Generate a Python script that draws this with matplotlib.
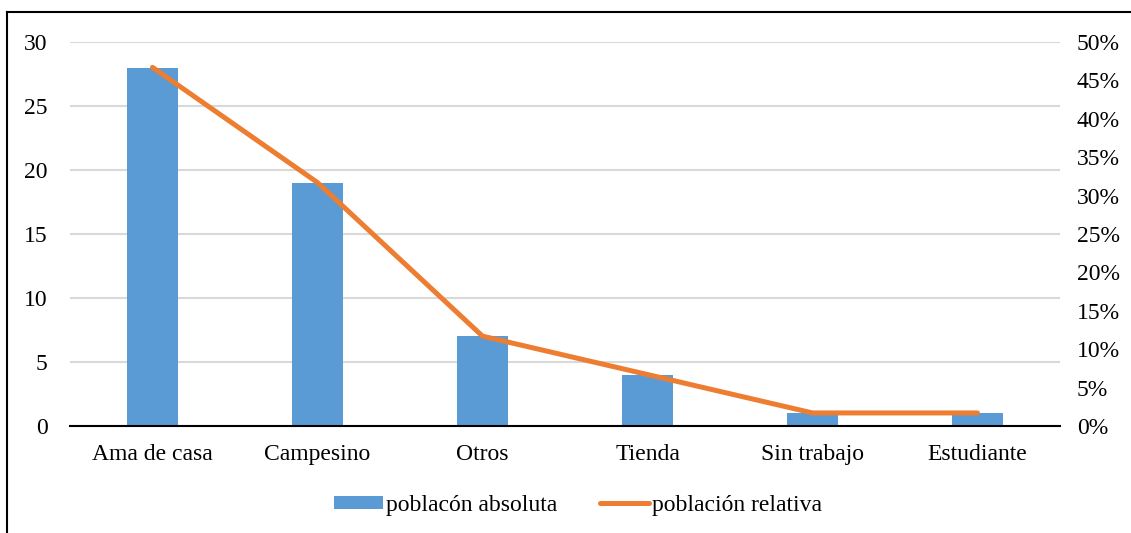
import numpy as np
import matplotlib
matplotlib.use("Agg")
from matplotlib import pyplot as plt
from matplotlib.ticker import FuncFormatter
from matplotlib.lines import Line2D
from matplotlib.patches import Patch

##### Data
categories = ["Ama de casa", "Campesino", "Otros", "Tienda", "Sin trabajo", "Estudiante"]
absoluta = [28, 19, 7, 4, 1, 1]
relativa = [0.467, 0.317, 0.117, 0.067, 0.017, 0.017]

BLUE = "#5B9BD5"
ORANGE = "#ED7D31"
GRID = "#D9D9D9"

plt.rcParams["font.family"] = ["Liberation Serif", "DejaVu Serif"]
plt.rcParams["font.size"] = 17

fig = plt.figure(figsize=(11.31, 5.33), dpi=100)
ax = fig.add_axes([70 / 1131, 1 - 426 / 533, 990 / 1131, 384 / 533])

x = np.arange(len(categories))
ax.bar(x, absoluta, width=0.315, color=BLUE, zorder=2)
ax.set_xlim(-0.5, len(categories) - 0.5)
ax.set_ylim(0, 30)
ax.set_yticks(np.arange(0, 31, 5))
ax.set_xticks(x)
ax.set_xticklabels(categories)
ax.grid(axis="y", color=GRID, linewidth=1.5, zorder=0)
for s in ["top", "right", "left"]:
    ax.spines[s].set_visible(False)
ax.spines["bottom"].set_color("black")
ax.spines["bottom"].set_linewidth(1.5)
ax.tick_params(axis="both", length=0)
ax.tick_params(axis="y", pad=16)
ax.tick_params(axis="x", pad=13)

ax2 = ax.twinx()
ax2.plot(x, relativa, color=ORANGE, linewidth=3.6, solid_capstyle="round", zorder=3)
ax2.set_ylim(0, 0.5)
ax2.set_yticks(np.arange(0, 0.501, 0.05))
ax2.yaxis.set_major_formatter(FuncFormatter(lambda v, p: "{:.0f}%".format(v * 100)))
for s in ax2.spines.values():
    s.set_visible(False)
ax2.tick_params(axis="y", length=0, pad=12)

handles = [Patch(facecolor=BLUE, edgecolor="none"),
           Line2D([0], [0], color=ORANGE, linewidth=3.6, solid_capstyle="round")]
fig.legend(handles, ["poblacón absoluta", "población relativa"], loc="center",
           bbox_to_anchor=(578 / 1131, 1 - 505 / 533), ncol=2, frameon=False,
           handlelength=2.1, handletextpad=0.12, columnspacing=1.8, handleheight=0.47)

# chart border (top and left only visible)
fig.add_artist(Line2D([7 / 1131, 7 / 1131], [0, 1 - 12 / 533], color="black", linewidth=1.5,
                      transform=fig.transFigure))
fig.add_artist(Line2D([7 / 1131, 1], [1 - 12 / 533, 1 - 12 / 533], color="black", linewidth=1.5,
                      transform=fig.transFigure))

fig.savefig("out.png", dpi=100)
